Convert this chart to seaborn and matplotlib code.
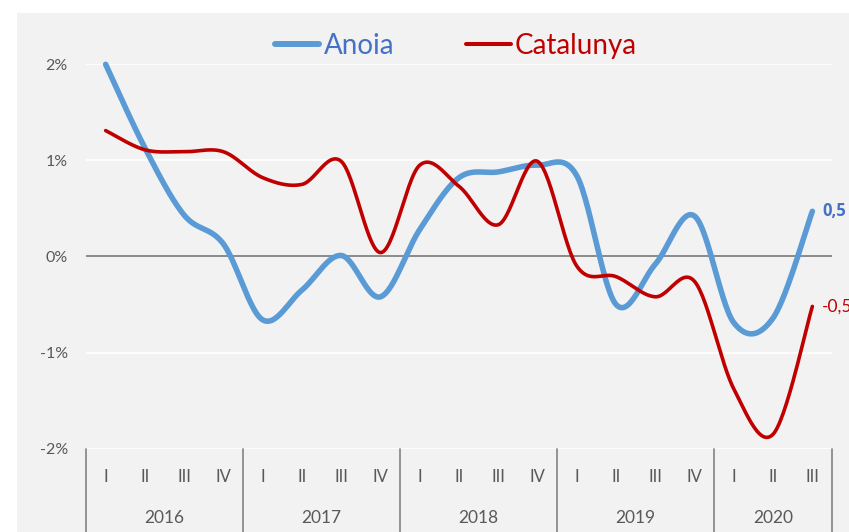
import numpy as np
import pandas as pd
import seaborn as sns
import matplotlib
matplotlib.use("Agg")
import matplotlib.pyplot as plt
from matplotlib.lines import Line2D
from matplotlib.patches import Rectangle

# ---- data ----
years = ['2016', '2017', '2018', '2019', '2020']
quarters = ['I', 'II', 'III', 'IV'] * 4 + ['I', 'II', 'III']
anoia = [2.00, 1.13, 0.43, 0.13, -0.66, -0.35, 0.01, -0.42, 0.28, 0.82,
         0.88, 0.95, 0.84, -0.50, -0.08, 0.42, -0.69, -0.64, 0.47]
catalunya = [1.31, 1.11, 1.09, 1.09, 0.82, 0.75, 0.99, 0.04, 0.95, 0.73,
             0.33, 0.99, -0.10, -0.21, -0.42, -0.26, -1.38, -1.85, -0.52]
series_names = ['Anoia', 'Catalunya']
end_labels = ['0,5', '-0,5']
yticks = [-2, -1, 0, 1, 2]
yticklabels = ['-2%', '-1%', '0%', '1%', '2%']

line_colors = {'Anoia': '#5b9bd5', 'Catalunya': '#c00000'}
text_colors = {'Anoia': '#4472c4', 'Catalunya': '#c00000'}


def smooth(vals, n=30):
    """Excel-style smoothed line (Catmull-Rom Bezier through the points)."""
    x = np.arange(len(vals), dtype=float)
    y = np.asarray(vals, dtype=float)
    P = np.column_stack([x, y])
    Pp = np.vstack([P[0], P, P[-1]])
    out = []
    t = np.linspace(0, 1, n)[:, None]
    for i in range(len(P) - 1):
        p0, p1, p2, p3 = Pp[i], Pp[i + 1], Pp[i + 2], Pp[i + 3]
        c1 = p1 + (p2 - p0) / 6.0
        c2 = p2 - (p3 - p1) / 6.0
        seg = ((1 - t) ** 3) * p1 + 3 * ((1 - t) ** 2) * t * c1 + 3 * (1 - t) * t ** 2 * c2 + t ** 3 * p2
        out.append(seg if i == 0 else seg[1:])
    s = np.vstack(out)
    return s[:, 0], s[:, 1]


sns.set_style('white')
plt.rcParams['font.family'] = ['Lato', 'DejaVu Sans']

W, H = 849, 532
fig = plt.figure(figsize=(W / 100, H / 100), dpi=100)
fig.patch.set_facecolor('white')
fig.add_artist(Rectangle((17 / W, 0), 1, (H - 13) / H, transform=fig.transFigure,
                         facecolor='#f2f2f2', edgecolor='none', zorder=-10))

ax_left, ax_right = 86 / W, 832 / W
ax_bot, ax_top = (H - 448.6) / H, (H - 64.3) / H
ax = fig.add_axes([ax_left, ax_bot, ax_right - ax_left, ax_top - ax_bot])
ax.set_facecolor('none')

frames = []
for name, vals in zip(series_names, [anoia, catalunya]):
    xs, ys = smooth(vals)
    frames.append(pd.DataFrame({'x': xs, 'y': ys, 'serie': name}))
df = pd.concat(frames, ignore_index=True)

widths = {'Anoia': 4.0, 'Catalunya': 2.6}
for name in series_names:
    d = df[df['serie'] == name]
    sns.lineplot(data=d, x='x', y='y', sort=False, estimator=None, ax=ax,
                 color=line_colors[name], lw=widths[name], legend=False,
                 solid_capstyle='round', clip_on=False, zorder=5)

ax.set_xlim(-0.5, 18.5)
ax.set_ylim(-2, 2)
ax.set_xlabel('')
ax.set_ylabel('')
for sp in ax.spines.values():
    sp.set_visible(False)

ax.set_yticks(yticks)
ax.set_yticklabels(yticklabels)
ax.tick_params(axis='y', length=0, pad=13, labelsize=11.5, labelcolor='#595959')
ax.grid(axis='y', color='white', lw=1.3)
ax.grid(axis='x', visible=False)
ax.axhline(0, color='#808080', lw=1.3, zorder=2)

ax.set_xticks(range(len(quarters)))
ax.set_xticklabels(quarters)
ax.tick_params(axis='x', length=0, pad=15, labelsize=12, labelcolor='#595959')

tr = ax.get_xaxis_transform()
bounds = [-0.5, 3.5, 7.5, 11.5, 15.5, 18.5]
for xb in bounds:
    ax.add_line(Line2D([xb, xb], [0, -0.22], transform=tr, color='#8c8c8c',
                       lw=1.3, clip_on=False))
for i, yr in enumerate(years):
    c = (bounds[i] + bounds[i + 1]) / 2
    ax.text(c, -0.18, yr, transform=tr, ha='center', va='center',
            fontsize=12.5, color='#595959')

# end labels (the reference shows them cut at the right edge too)
for name, vals, lab in zip(series_names, [anoia, catalunya], end_labels):
    bold = name == 'Anoia'
    ax.annotate(lab, (len(vals) - 1, vals[-1]), xytext=(7, 0), textcoords='offset points',
                ha='left', va='center', fontsize=12 if bold else 12.5,
                color=text_colors[name],
                family=['Open Sans', 'DejaVu Sans'] if bold else ['Lato', 'DejaVu Sans'],
                fontweight='bold' if bold else 'normal',
                annotation_clip=False)

handles = [Line2D([], [], color=line_colors[n], lw=widths[n] + 0.3, solid_capstyle='round')
           for n in series_names]
leg = fig.legend(handles, series_names, loc='center', bbox_to_anchor=(456 / W, 1 - 46 / H),
                 ncol=2, frameon=False, handlelength=1.6, handletextpad=0.15,
                 columnspacing=2.6, fontsize=20)
for txt, n in zip(leg.get_texts(), series_names):
    txt.set_color(text_colors[n])

fig.savefig('out.png', dpi=100)
